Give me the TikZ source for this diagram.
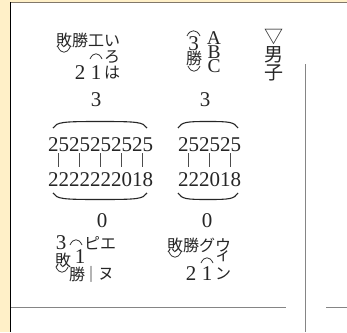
\documentclass[tikz,border=0pt]{standalone}
\usepackage{fontspec}
\newfontfamily\jp{Noto Sans CJK JP}
\newfontfamily\serifnum{Liberation Serif}
\begin{document}
\begin{tikzpicture}[x=1pt,y=-1pt,
  jp/.style={font=\jp\fontsize{16}{16}\selectfont, inner sep=0pt, text=black!85},
  jpb/.style={font=\jp\fontsize{19}{19}\selectfont, inner sep=0pt, text=black!85},
  num/.style={font=\serifnum\fontsize{21}{21}\selectfont, inner sep=0pt, text=black!85},
  lat/.style={font=\serifnum\fontsize{19.5}{19.5}\selectfont, inner sep=0pt, text=black!85},
  arcs/.style={draw=black!80, line width=0.8pt},
  brace/.style={draw=black!85, line width=1.1pt},
  tick/.style={draw=black!70, line width=0.7pt},
  rule/.style={draw=black!48, line width=1.8pt}]
\useasboundingbox (0,0) rectangle (347,332);
\fill[fill={rgb,255:red,255;green,240;blue,200}] (0,0) rectangle (347,332);
\fill[white] (10,2.5) rectangle (347,332);
\draw[draw={rgb,255:red,130;green,120;blue,105}, line width=1.5pt] (10,2.5) -- (347,2.5);
\draw[black, line width=1.6pt] (10.5,2) -- (10.5,332);
% rules
\coordinate (vt) at (305.5,64);
\coordinate (vb) at (305.5,332);
\draw[rule] (vt) -- (vb);
\coordinate (h1a) at (11,307.5);
\coordinate (h1b) at (286,307.5);
\coordinate (h2a) at (326,307.5);
\coordinate (h2b) at (347,307.5);
\draw[rule] (h1a) -- (h1b);
\draw[rule] (h2a) -- (h2b);
% top-left group
\node[jp] (tl1) at (88,40) {敗勝工い};
\draw[arcs] (58,47) .. controls (61,54) and (67,54) .. (70,47);
\draw[arcs] (90,59) .. controls (93,52) and (99,52) .. (102,59);
\node[jp] (ro) at (112,57) {ろ};
\node[num] (d2) at (80,73) {2};
\node[num] (d1) at (96,73) {1};
\node[jp] (ha) at (112,73) {は};
\node[num] (s3a) at (96,100) {3};
% second group
\draw[arcs] (187,36) .. controls (190,29) and (197,29) .. (200,36);
\node[num] (s3) at (193.5,44) {3};
\node[jp] (sho) at (194,58) {勝};
\draw[arcs] (188,66) .. controls (191,73) and (197,73) .. (200,66);
\node[lat] (A) at (214,38) {A};
\node[lat] (B) at (214,52) {B};
\node[lat] (C) at (214,66) {C};
\node[num] (s3b) at (205,100) {3};
% right column
\node[jpb] (tri) at (274,37) {▽};
\node[jpb] (otoko) at (274,55) {男};
\node[jpb] (ko) at (274,73) {子};
% digits left
\draw[brace] (53,128) .. controls (57,122) and (62,121.5) .. (100,121.5) .. controls (138,121.5) and (143,122) .. (147,128);
\node[num, anchor=west] (r1) at (48,144.5) {2525252525};
\foreach \x in {58.5,79.5,100.5,121.5,142.5} \draw[tick] (\x,153) -- (\x,167);
\node[num, anchor=west] (r2) at (48,179.5) {2222222018};
\draw[brace] (53,193) .. controls (57,199) and (62,199.5) .. (100,199.5) .. controls (138,199.5) and (143,199) .. (147,193);
% digits right
\draw[brace] (178,128) .. controls (182,122) and (186,121.5) .. (208,121.5) .. controls (230,121.5) and (234,122) .. (238,128);
\node[num, anchor=west] (r3) at (178,144.5) {252525};
\foreach \x in {188.5,209.5,230.5} \draw[tick] (\x,153) -- (\x,167);
\node[num, anchor=west] (r4) at (178,179.5) {222018};
\draw[brace] (178,193) .. controls (182,199) and (186,199.5) .. (208,199.5) .. controls (230,199.5) and (234,199) .. (238,193);
% zeros
\node[num] (z1) at (102,221) {0};
\node[num] (z2) at (207,221) {0};
% lower left
\node[num] (l3) at (61,243) {3};
\draw[arcs] (70,245) .. controls (73,238) and (79,238) .. (82,245);
\node[jp] (pie) at (100,243) {ピエ};
\node[jp] (hai) at (63,260) {敗};
\node[num] (l1) at (80,257) {1};
\draw[arcs] (56,267) .. controls (59,274) and (65,274) .. (68,267);
\node[jp] (sho2) at (77,274) {勝};
\node[jp] (bar) at (91,274) {｜};
\node[jp] (nu) at (106,274) {ヌ};
% lower right
\node[jp] (lr1) at (199,245) {敗勝グウ};
\draw[arcs] (169,252) .. controls (172,259) and (178,259) .. (181,252);
\draw[arcs] (201,263) .. controls (204,256) and (210,256) .. (213,263);
\node[jp] (ii) at (223,256) {ィ};
\node[num] (e2) at (191,274) {2};
\node[num] (e1) at (207,274) {1};
\node[jp] (n) at (223,274) {ン};
\end{tikzpicture}
\end{document}
